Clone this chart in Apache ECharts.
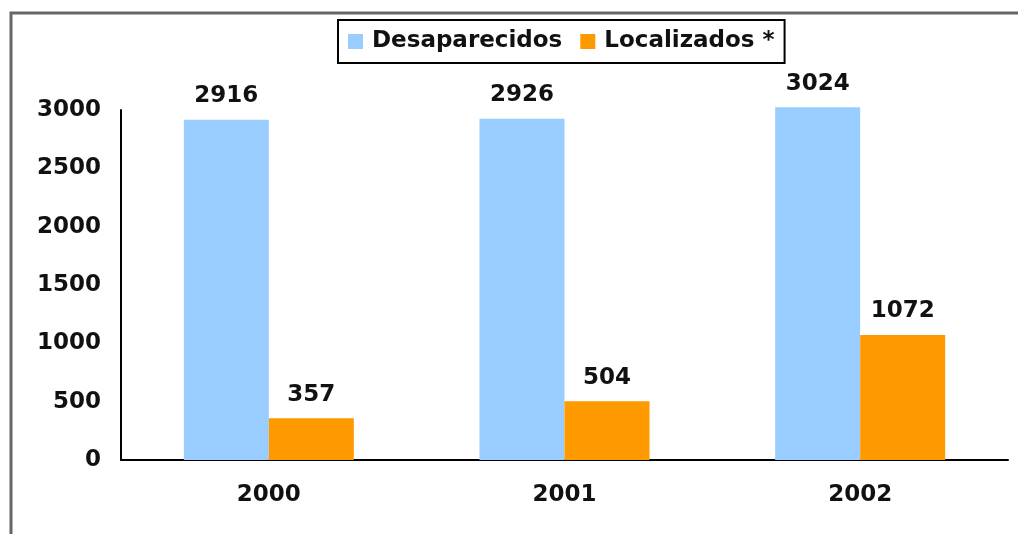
<!DOCTYPE html>
<html>
<head>
<meta charset="utf-8">
<script src="https://cdn.jsdelivr.net/npm/echarts@6/dist/echarts.min.js"></script>
<style>
  html, body { margin: 0; padding: 0; background: #fff; }
  #chart { width: 1018px; height: 534px; }
</style>
</head>
<body>
<div id="chart"></div>
<script>
const years = ['2000', '2001', '2002'];
const desaparecidos = [2916, 2926, 3024];
const localizados = [357, 504, 1072];
const yTicks = [0, 500, 1000, 1500, 2000, 2500, 3000];

const font = 'DejaVu Sans';
const chart = echarts.init(document.getElementById('chart'));

const labelStyle = {
  show: true,
  position: 'top',
  distance: 12,
  color: '#111',
  fontFamily: font,
  fontWeight: 'bold',
  fontSize: 23
};

chart.setOption({
  animation: false,
  backgroundColor: '#fff',
  graphic: [{
    type: 'polyline',
    shape: { points: [[11, 534], [11, 13], [1018, 13]] },
    style: { stroke: '#666', lineWidth: 3, fill: null }
  }],
  legend: {
    left: 338,
    top: 20,
    padding: [10, 10, 10, 10],
    borderColor: '#000',
    borderWidth: 2,
    itemWidth: 15,
    itemHeight: 15,
    itemGap: 18,
    icon: 'rect',
    textStyle: { fontFamily: font, fontWeight: 'bold', fontSize: 23, color: '#111', padding: [0, 0, 0, 4] },
    data: ['Desaparecidos', 'Localizados *']
  },
  grid: { left: 121, right: 10, top: 110, bottom: 74 },
  xAxis: {
    type: 'category',
    data: years,
    axisLine: { lineStyle: { color: '#000', width: 2 } },
    axisTick: { show: false },
    axisLabel: { margin: 24, color: '#111', fontFamily: font, fontWeight: 'bold', fontSize: 23 }
  },
  yAxis: {
    type: 'value',
    min: yTicks[0],
    max: yTicks[yTicks.length - 1],
    interval: 500,
    axisLine: { show: true, lineStyle: { color: '#000', width: 2 } },
    axisTick: { show: false },
    splitLine: { show: false },
    axisLabel: {
      margin: 20,
      formatter: v => String(v),
      color: '#111', fontFamily: font, fontWeight: 'bold', fontSize: 23
    }
  },
  series: [
    {
      name: 'Desaparecidos',
      type: 'bar',
      data: desaparecidos,
      clip: false,
      barGap: '0%',
      barCategoryGap: '42.5%',
      itemStyle: { color: '#99CCFF' },
      label: labelStyle
    },
    {
      name: 'Localizados *',
      type: 'bar',
      data: localizados,
      clip: false,
      itemStyle: { color: '#FF9900' },
      label: labelStyle
    }
  ]
});
</script>
</body>
</html>
